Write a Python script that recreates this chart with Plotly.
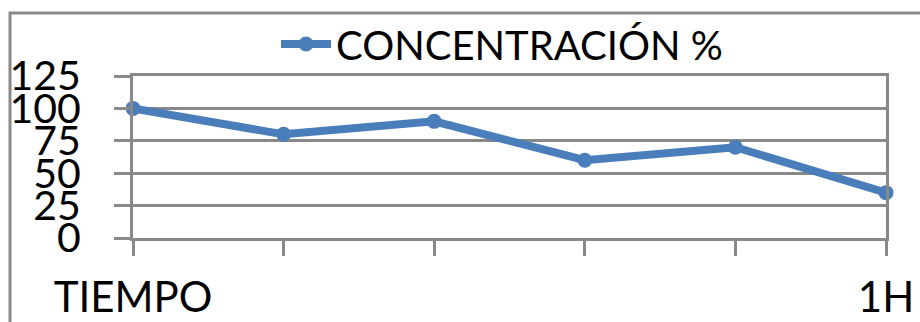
import plotly.graph_objects as go

categories = [0, 1, 2, 3, 4, 5]
tick_labels = ["TIEMPO", "", "", "", "", "1H"]
concentracion = [100, 80, 90, 60, 70, 35]
y_ticks = [0, 25, 50, 75, 100, 125]
series_name = "CONCENTRACIÓN %"

W, H = 920, 322
L, R, T, B = 133, 34, 76, 84
pw, ph = W - L - R, H - T - B

GRAY = "#898989"
BLUE = "#4a7ebb"
FONT = "Lato"

fig = go.Figure()
fig.add_trace(go.Scatter(
    x=categories, y=concentracion, mode="lines+markers", name=series_name,
    line=dict(color=BLUE, width=8),
    marker=dict(color=BLUE, size=15, symbol="circle"),
    cliponaxis=False,
))

fig.update_layout(
    width=W, height=H,
    margin=dict(l=L, r=R, t=T, b=B, autoexpand=False),
    paper_bgcolor="white", plot_bgcolor="white",
    font=dict(family=FONT, color="black", size=42),
    showlegend=True,
    legend=dict(
        orientation="h", x=(502 - L) / pw, xanchor="center",
        y=(H - B - 44) / ph, yanchor="middle",
        font=dict(family=FONT, size=40, color="black"),
        bgcolor="rgba(0,0,0,0)", itemwidth=50,
    ),
    xaxis=dict(
        range=[0, 5], tickvals=categories, ticktext=tick_labels,
        showgrid=False, zeroline=False, automargin=False,
        showline=True, linecolor=GRAY, linewidth=3, mirror=True,
        ticks="outside", ticklen=15, tickwidth=3, tickcolor=GRAY,
        tickfont=dict(family=FONT, size=42, color="black"),
        ticklabelstandoff=6,
    ),
    yaxis=dict(
        range=[0, 125], tickvals=y_ticks, ticktext=[str(v) for v in y_ticks],
        showgrid=True, gridcolor=GRAY, gridwidth=3, zeroline=False, automargin=False,
        showline=True, linecolor=GRAY, linewidth=3, mirror=True,
        ticks="outside", ticklen=16, tickwidth=3, tickcolor=GRAY,
        tickfont=dict(family=FONT, size=41, color="black"),
        ticklabelstandoff=25,
    ),
    shapes=[dict(
        type="rect", xref="paper", yref="paper",
        x0=(10 - L) / pw, x1=(W + 20 - L) / pw,
        y0=(H - B - (H + 20)) / ph, y1=(H - B - 13) / ph,
        line=dict(color=GRAY, width=3), fillcolor="rgba(0,0,0,0)", layer="below",
    )],
)

fig.write_html("out.html")
